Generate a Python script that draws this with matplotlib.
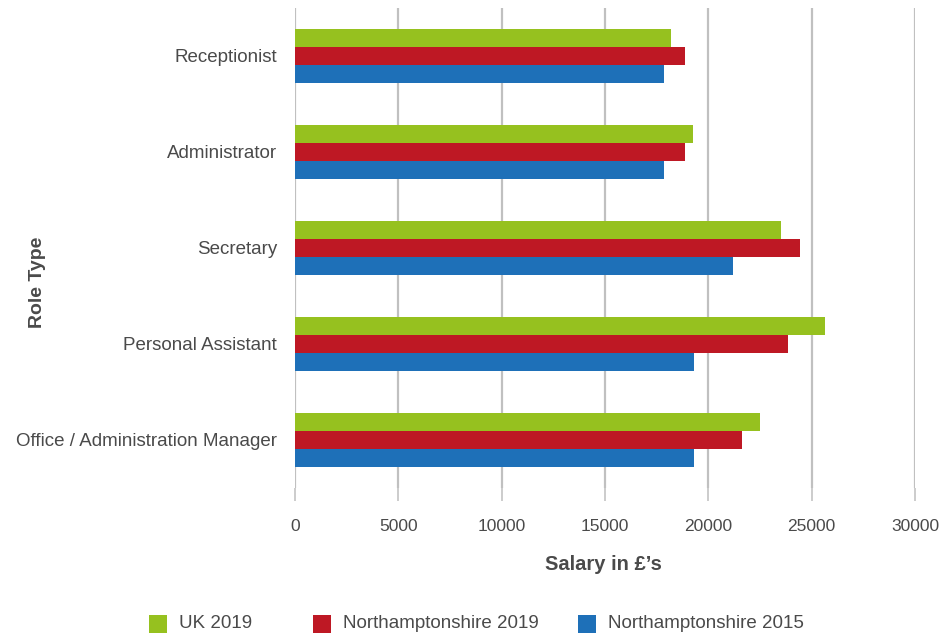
import matplotlib
matplotlib.use("Agg")
import matplotlib.pyplot as plt
from matplotlib.patches import Rectangle
import numpy as np

plt.rcParams['font.family'] = ['Liberation Sans', 'DejaVu Sans']

categories = ["Receptionist", "Administrator", "Secretary", "Personal Assistant",
              "Office / Administration Manager"]
series_names = ["UK 2019", "Northamptonshire 2019", "Northamptonshire 2015"]
uk_2019 = [18200, 19250, 23500, 25650, 22500]
north_2019 = [18850, 18850, 24450, 23850, 21650]
north_2015 = [17850, 17850, 21200, 19300, 19300]
x_ticks = [0, 5000, 10000, 15000, 20000, 25000, 30000]
colors = ["#96C11F", "#BE1824", "#1E70B8"]

W, H = 942, 634
fig = plt.figure(figsize=(W / 100, H / 100), dpi=100)
ax = fig.add_axes([295 / W, 1 - 488 / H, 620 / W, 480 / H])

txt = "#4a4a4a"
y = np.arange(len(categories))
h = 0.1875
for off, vals, c in zip([-h, 0, h], [uk_2019, north_2019, north_2015], colors):
    ax.barh(y + off, vals, height=h, color=c, zorder=3, linewidth=0)

ax.set_xlim(0, 30000)
ax.set_ylim(len(categories) - 0.5, -0.5)
ax.set_xticks(x_ticks)
ax.set_xticklabels([str(t) for t in x_ticks], fontsize=12.5, color=txt)
ax.set_yticks(y)
ax.set_yticklabels(categories, fontsize=13.5, color=txt)
ax.tick_params(axis='y', length=0, pad=13)
ax.tick_params(axis='x', length=9, width=1.2, color="#c4c4c4", pad=13)
ax.grid(axis='x', color="#c0c0c0", linewidth=1.6, zorder=0)
for s in ax.spines.values():
    s.set_visible(False)

fig.text(38 / W, 1 - 282 / H, "Role Type", rotation=90, ha='center', va='center',
         fontsize=14, fontweight='bold', color=txt)
fig.text(603 / W, 1 - 564 / H, "Salary in £’s", ha='center', va='center',
         fontsize=14.5, fontweight='bold', color=txt)

# legend
leg_x = [149, 313, 578]
for lx, name, c in zip(leg_x, series_names, colors):
    fig.add_artist(Rectangle((lx / W, 1 - 633 / H), 18 / W, 18 / H,
                             transform=fig.transFigure, color=c, linewidth=0))
    fig.text((lx + 30) / W, 1 - 624 / H, name, ha='left', va='center',
             fontsize=13.5, color=txt)

fig.savefig("out.png", dpi=100)
